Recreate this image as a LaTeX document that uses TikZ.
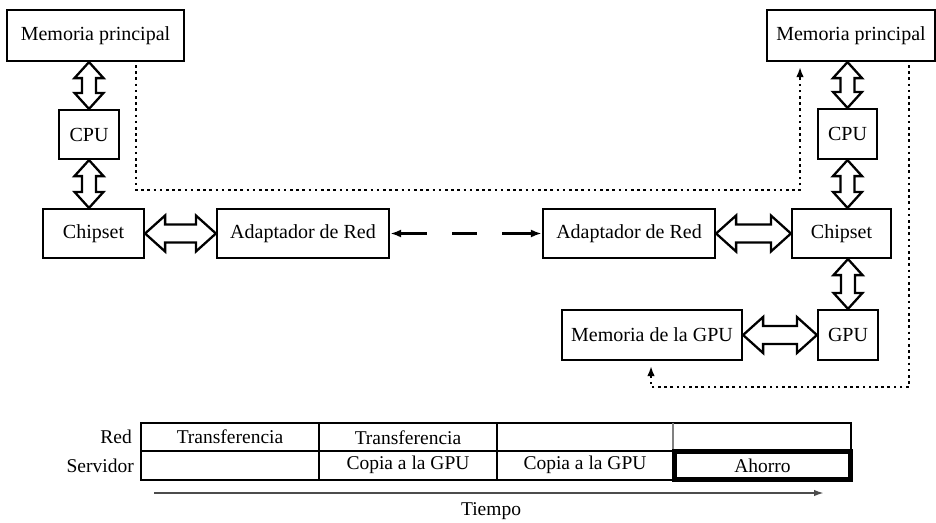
\documentclass[tikz,border=0pt]{standalone}
\usepackage{fontspec}
\setmainfont{Liberation Serif}
\usetikzlibrary{calc,arrows.meta}

\tikzset{
  box/.style={draw, line width=2.2pt, inner sep=0pt, align=center,
    font=\fontsize{20}{24}\selectfont},
  celltext/.style={inner sep=0pt, font=\fontsize{19.5}{23}\selectfont},
  grid/.style={line width=2.1pt},
  % hollow block arrow with a head at both ends: #1 head length, #2 head half width, #3 shaft half width
  blockarrow/.style args={#1/#2/#3}{draw, fill=white, line width=2.3pt, line join=miter,
    to path={
      -- ($(\tikztostart)!#1!(\tikztotarget)!#2!90:(\tikztotarget)$)
      -- ($(\tikztostart)!#1!(\tikztotarget)!#3!90:(\tikztotarget)$)
      -- ($(\tikztotarget)!#1!(\tikztostart)!#3!-90:(\tikztostart)$)
      -- ($(\tikztotarget)!#1!(\tikztostart)!#2!-90:(\tikztostart)$)
      -- (\tikztotarget)
      -- ($(\tikztotarget)!#1!(\tikztostart)!#2!90:(\tikztostart)$)
      -- ($(\tikztotarget)!#1!(\tikztostart)!#3!90:(\tikztostart)$)
      -- ($(\tikztostart)!#1!(\tikztotarget)!#3!-90:(\tikztotarget)$)
      -- ($(\tikztostart)!#1!(\tikztotarget)!#2!-90:(\tikztotarget)$)
      -- cycle}},
  vbus/.style={blockarrow=16pt/14.5pt/7pt},
  hbus/.style={blockarrow=20pt/18pt/9pt},
  dotline/.style={line width=2.6pt, dash pattern=on 2.6pt off 3.6pt,
    -{Latex[length=10pt,width=7.5pt]}},
  netline/.style={line width=2.3pt,
    dash pattern=on 27pt off 25pt on 25pt off 25pt on 60pt,
    {Latex[length=11pt,width=8pt]}-{Latex[length=11pt,width=8pt]}},
}

\begin{document}
\begin{tikzpicture}[x=1pt,y=-1pt]
  \useasboundingbox (0,0) rectangle (936,522);

  % first host
  \node[box, minimum width=177pt, minimum height=51pt] (mpL)  at (95.5,35.5)  {Memoria principal};
  \node[box, minimum width=60pt,  minimum height=49pt] (cpuL) at (89,134.5)   {CPU};
  \node[box, minimum width=101pt, minimum height=49pt] (chL)  at (93.5,233.5) {Chipset};
  \node[box, minimum width=172pt, minimum height=49pt] (adL)  at (303,233.5)  {Adaptador de Red};

  % second host
  \node[box, minimum width=172pt, minimum height=49pt] (adR)  at (629,233.5)  {Adaptador de Red};
  \node[box, minimum width=99pt,  minimum height=49pt] (chR)  at (841.5,233.5){Chipset};
  \node[box, minimum width=59pt,  minimum height=50pt] (cpuR) at (847.5,134)  {CPU};
  \node[box, minimum width=168pt, minimum height=51pt] (mpR)  at (851,35.5)   {Memoria principal};
  \node[box, minimum width=60pt,  minimum height=50pt] (gpu)  at (848,335)    {GPU};
  \node[box, minimum width=180pt, minimum height=50pt] (mgpu) at (652,335)    {Memoria de la GPU};

  % bus connections
  \coordinate (bL1) at (cpuL.north |- mpL.south);
  \coordinate (bL2) at (cpuL.south);
  \coordinate (bL3) at (cpuL.south |- chL.north);
  \draw[vbus] (bL1) to (cpuL.north);
  \draw[vbus] (bL2) to (bL3);
  \draw[hbus] (chL.east) to (adL.west);

  \coordinate (bR0) at (mpR.south -| cpuR.north);
  \draw[vbus] (bR0) to (cpuR.north);
  \coordinate (bR1) at (cpuR.south);
  \coordinate (bR2) at (cpuR.south |- chR.north);
  \draw[vbus] (bR1) to (bR2);
  \coordinate (bR3) at (chR.south -| gpu.north);
  \draw[vbus] (bR3) to (gpu.north);
  \draw[hbus] (adR.east) to (chR.west);
  \draw[hbus] (gpu.west) to (mgpu.east);

  % network link
  \draw[netline] (adL.east) -- (adR.west);

  % data paths
  \coordinate (dA) at (136,65);
  \coordinate (dB) at (800,67);
  \draw[dotline] (dA) -- (136,190) -- (800,190) -- (dB);
  \coordinate (dC) at (909,65);
  \coordinate (dD) at (651,366);
  \draw[dotline] (dC) -- (909,387) -- (651,387) -- (dD);

  % timeline chart
  \draw[grid] (141,423) rectangle (851,480);
  \draw[grid] (141,451) -- (851,451);
  \draw[grid] (319,423) -- (319,480);
  \draw[grid] (497,423) -- (497,480);
  \draw[gray, line width=1.2pt] (673,423) -- (673,451);
  \draw[line width=4.8pt] (674.5,451.5) rectangle (850.5,479.5);

  \node[celltext] (tr1) at (230,437)   {Transferencia};
  \node[celltext] (tr2) at (408,438)   {Transferencia};
  \node[celltext] (cp1) at (408,465)   {Copia a la GPU};
  \node[celltext] (cp2) at (585,465)   {Copia a la GPU};
  \node[celltext] (ah)  at (762.5,466) {Ahorro};

  \node[celltext, anchor=east] (lred) at (132,437) {Red};
  \node[celltext, anchor=east] (lsrv) at (134,466) {Servidor};

  \coordinate (tA) at (154,493);
  \coordinate (tB) at (824,493);
  \draw[line width=1.8pt, black!70, -{Latex[length=10pt,width=6.5pt]}] (tA) -- (tB);
  \node[celltext] (tiempo) at (491,511) {Tiempo};
\end{tikzpicture}
\end{document}
